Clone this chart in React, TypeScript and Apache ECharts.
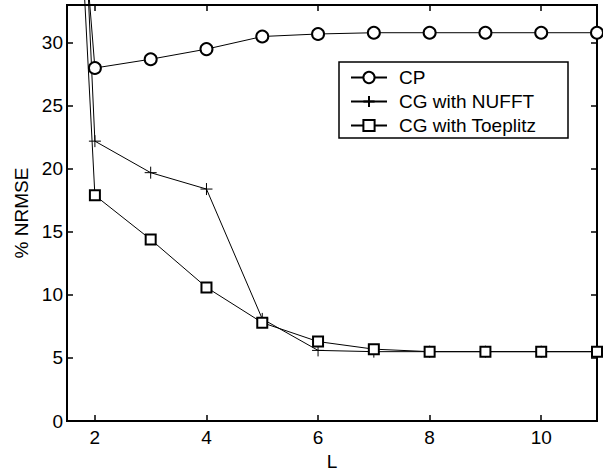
import React, { useEffect, useRef } from "react";
import * as echarts from "echarts";

const L = [1, 2, 3, 4, 5, 6, 7, 8, 9, 10, 11];
const cp = [83, 28.0, 28.7, 29.5, 30.5, 30.7, 30.8, 30.8, 30.8, 30.8, 30.8];
const nufft = [120, 22.2, 19.7, 18.4, 8.1, 5.6, 5.5, 5.5, 5.5, 5.5, 5.5];
const toeplitz = [103, 17.9, 14.4, 10.6, 7.8, 6.3, 5.7, 5.5, 5.5, 5.5, 5.5];
const xTicks = [2, 4, 6, 8, 10];
const yTicks = [0, 5, 10, 15, 20, 25, 30];
const seriesNames = ["CP", "CG with NUFFT", "CG with Toeplitz"];

const FONT = "Liberation Sans, Arial, Helvetica, sans-serif";
const PLUS = "path://M5,0L5,10M0,5L10,5";

export default function App() {
  const ref = useRef<HTMLDivElement>(null);
  useEffect(() => {
    if (!ref.current) return;
    const chart = echarts.init(ref.current, null, { renderer: "svg" });
    const pair = (ys: number[]) => L.map((x, i) => [x, ys[i]]);
    const common = {
      type: "line",
      clip: false,
      lineStyle: { color: "#000", width: 1 },
      showAllSymbol: true,
    };
    const mkLine = () => ({ show: true, onZero: false, lineStyle: { color: "#000", width: 2 } });
    const mkTick = (vals: number[]) => ({ show: true, inside: true, length: 6, customValues: vals, lineStyle: { color: "#000", width: 1.5 } });
    chart.setOption({
      animation: false,
      backgroundColor: "#fff",
      grid: {
        left: 67, right: 6, top: 5, bottom: 47,
        outerBoundsMode: "none",
        show: true, borderColor: "#000", borderWidth: 2, backgroundColor: "transparent",
      },
      xAxis: [
        {
          type: "value",
          min: 1.5,
          max: 11,
          name: "L",
          nameLocation: "middle",
          nameGap: 24,
          nameTextStyle: { fontSize: 19, lineHeight: 14, color: "#000", fontFamily: FONT },
          axisLine: mkLine(),
          axisTick: mkTick(xTicks),
          axisLabel: { customValues: xTicks, fontSize: 19, color: "#000", margin: 7, fontFamily: FONT },
          splitLine: { show: false },
        },
        {
          type: "value",
          position: "top",
          min: 1.5,
          max: 11,
          axisLine: mkLine(),
          axisTick: mkTick(xTicks),
          axisLabel: { show: false },
          splitLine: { show: false },
        },
      ],
      yAxis: [
        {
          type: "value",
          min: 0,
          max: 33,
          name: "% NRMSE",
          nameLocation: "middle",
          nameGap: 36,
          nameRotate: 90,
          nameTextStyle: { fontSize: 19, color: "#000", fontFamily: FONT },
          axisLine: mkLine(),
          axisTick: mkTick(yTicks),
          axisLabel: { customValues: yTicks, fontSize: 19, color: "#000", margin: 4, fontFamily: FONT },
          splitLine: { show: false },
        },
        {
          type: "value",
          position: "right",
          min: 0,
          max: 33,
          axisLine: mkLine(),
          axisTick: mkTick(yTicks),
          axisLabel: { show: false },
          splitLine: { show: false },
        },
      ],
      graphic: [
        {
          type: "rect",
          z: 3,
          shape: { x: 339, y: 62, width: 229, height: 76 },
          style: { fill: "#fff", stroke: "#000", lineWidth: 1.5 },
        },
      ],
      legend: {
        orient: "vertical",
        left: 339,
        top: 62,
        padding: [6, 10, 4, 11],
        itemGap: 5,
        itemWidth: 36,
        itemHeight: 14,
        z: 5,
        textStyle: { fontSize: 19, color: "#000", fontFamily: FONT, padding: [0, 0, 0, 7] },
        data: seriesNames,
      },
      series: [
        { ...common, name: seriesNames[0], data: pair(cp), symbol: "emptyCircle", symbolSize: 12, itemStyle: { color: "#000", borderColor: "#000", borderWidth: 1 } },
        { ...common, name: seriesNames[1], data: pair(nufft), symbol: PLUS, symbolSize: 12, itemStyle: { color: "none", borderColor: "#000", borderWidth: 1 } },
        { ...common, name: seriesNames[2], data: pair(toeplitz), symbol: "emptyRect", symbolSize: 10, itemStyle: { color: "#000", borderColor: "#000", borderWidth: 1 } },
      ],
    });
    return () => chart.dispose();
  }, []);
  return <div ref={ref} style={{ width: 603, height: 468, position: "absolute", left: 0, top: 0 }} />;
}
